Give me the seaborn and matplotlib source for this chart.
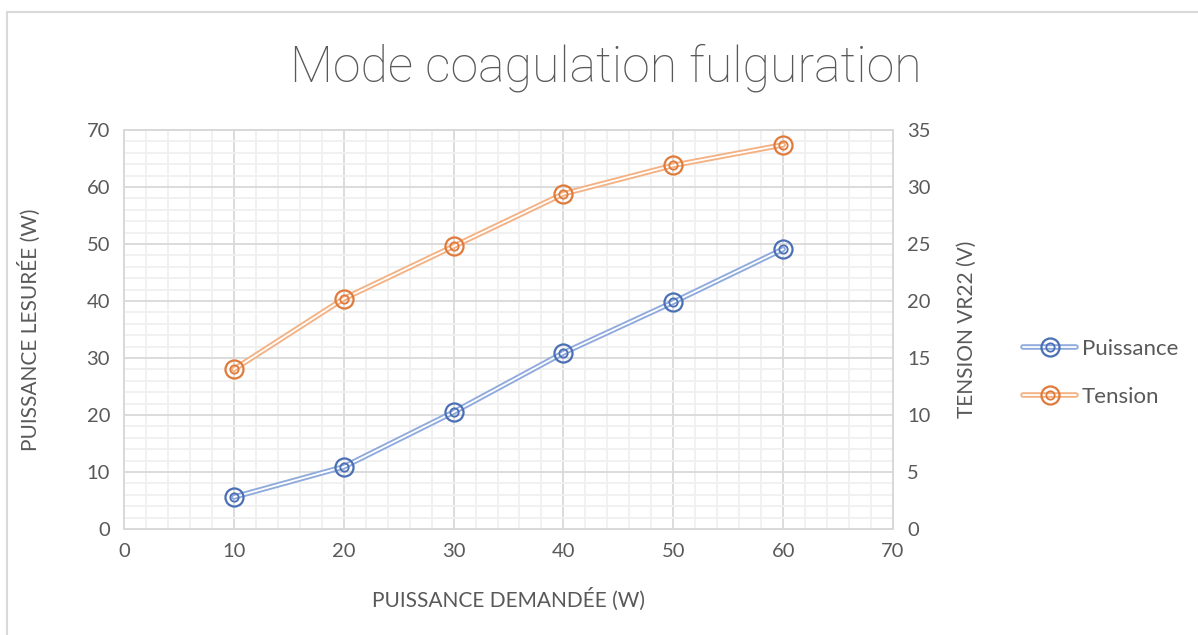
import matplotlib
matplotlib.use("Agg")
import matplotlib.pyplot as plt
import seaborn as sns
import pandas as pd
from matplotlib.ticker import MultipleLocator
from matplotlib.lines import Line2D
from matplotlib.legend_handler import HandlerTuple

# Data
puissance_demandee = [10, 20, 30, 40, 50, 60]
puissance_mesuree = [5.6, 10.9, 20.5, 30.9, 39.8, 49.1]
tension = [14.0, 20.2, 24.8, 29.4, 31.9, 33.7]

sns.set_theme(style="white")
plt.rcParams['font.family'] = ['Lato', 'DejaVu Sans']

TXT = "#595959"
BLUE = "#4A6FB5"
BLUE_L = "#8FAADC"
ORANGE = "#E07A3A"
ORANGE_L = "#F4B183"

df = pd.DataFrame({"x": puissance_demandee, "p": puissance_mesuree, "t": tension})

fig = plt.figure(figsize=(11.98, 6.35), dpi=100)
ax = fig.add_axes([124/1198, 1-529/635, (893-124)/1198, (529-130)/635])
ax2 = ax.twinx()

OUT_MS, OUT_MEW = 13, 1.6
IN_MS, IN_MEW = 6, 1.3

def draw(axis, col, dark, light):
    sns.lineplot(data=df, x="x", y=col, ax=axis, color=light, linewidth=4.0, legend=False, zorder=3)
    sns.lineplot(data=df, x="x", y=col, ax=axis, color="white", linewidth=1.3, legend=False, zorder=4)
    axis.plot(df["x"], df[col], linestyle="none", marker="o", markersize=OUT_MS,
              markerfacecolor="none", markeredgecolor=dark, markeredgewidth=OUT_MEW, zorder=5)
    axis.plot(df["x"], df[col], linestyle="none", marker="o", markersize=IN_MS,
              markerfacecolor="none", markeredgecolor=dark, markeredgewidth=IN_MEW, zorder=6)

draw(ax, "p", BLUE, BLUE_L)
draw(ax2, "t", ORANGE, ORANGE_L)

ax.set_xlim(0, 70)
ax.set_ylim(0, 70)
ax2.set_ylim(0, 35)
ax.xaxis.set_major_locator(MultipleLocator(10))
ax.yaxis.set_major_locator(MultipleLocator(10))
ax.xaxis.set_minor_locator(MultipleLocator(2))
ax.yaxis.set_minor_locator(MultipleLocator(2))
ax2.yaxis.set_major_locator(MultipleLocator(5))

ax.grid(which="major", color="#D9D9D9", linewidth=1.3, zorder=0)
ax.grid(which="minor", color="#F0F0F0", linewidth=1.3, zorder=0)
ax.set_axisbelow(True)
ax2.grid(False)

for a in (ax, ax2):
    for s in a.spines.values():
        s.set_color("#D9D9D9")
        s.set_linewidth(1.3)
    a.tick_params(axis="both", which="both", length=0, labelsize=14.5, colors=TXT, pad=10)

ax.set_xlabel("PUISSANCE DEMANDÉE (W)", fontsize=15, color=TXT, labelpad=20)
ax.set_ylabel("PUISSANCE LESURÉE (W)", fontsize=15, color=TXT)
ax.yaxis.set_label_coords(-0.108, 0.5)
ax2.set_ylabel("TENSION VR22 (V)", fontsize=15, color=TXT)
ax2.yaxis.set_label_coords(1.083, 0.5)

fig.text(606/1198, 1-68/635, "Mode coagulation fulguration", ha="center", va="center",
         fontsize=36, color=TXT, family=["Roboto", "DejaVu Sans"], fontweight="light")

def handle(dark, light):
    return (Line2D([], [], color=light, linewidth=4.0),
            Line2D([], [], color="white", linewidth=1.3),
            Line2D([], [], linestyle="none", marker="o", markersize=OUT_MS, markerfacecolor="none",
                   markeredgecolor=dark, markeredgewidth=OUT_MEW),
            Line2D([], [], linestyle="none", marker="o", markersize=IN_MS, markerfacecolor="none",
                   markeredgecolor=dark, markeredgewidth=IN_MEW))

leg = fig.legend([handle(BLUE, BLUE_L), handle(ORANGE, ORANGE_L)], ["Puissance", "Tension"],
                 handler_map={tuple: HandlerTuple(ndivide=1, pad=0)},
                 loc="center left", bbox_to_anchor=(1003/1198, 1-373/635), frameon=False,
                 fontsize=16, labelcolor=TXT, handlelength=2.4, handletextpad=0.25, labelspacing=1.25)

# chart border (left and top visible)
fig.add_artist(Line2D([7/1198, 7/1198], [0, 1-12/635], color="#D9D9D9", linewidth=1.5, transform=fig.transFigure))
fig.add_artist(Line2D([7/1198, 1], [1-12/635, 1-12/635], color="#D9D9D9", linewidth=1.5, transform=fig.transFigure))

fig.savefig("out.png", dpi=100)
